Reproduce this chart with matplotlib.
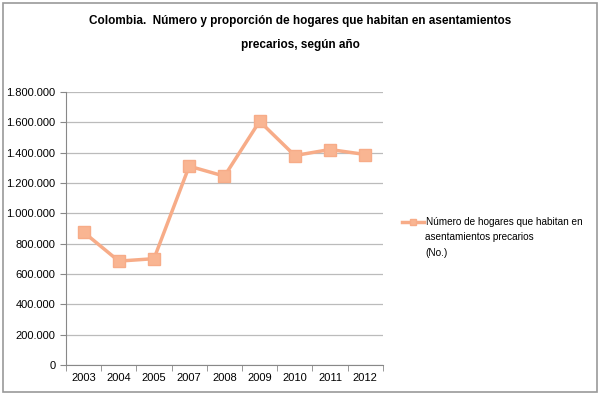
import matplotlib.pyplot as plt
from matplotlib.patches import Rectangle
from matplotlib.ticker import FuncFormatter, FixedLocator

years = ["2003", "2004", "2005", "2007", "2008", "2009", "2010", "2011", "2012"]
hogares = [876000, 685000, 701000, 1311000, 1245000, 1607000, 1381000, 1421000, 1388000]
label_first = "Número de hogares que habitan en"
label_rest = "asentamientos precarios\n(No.)"
title = "Colombia.  Número y proporción de hogares que habitan en asentamientos\nprecarios, según año"

plt.rcParams['font.family'] = ['Liberation Sans', 'DejaVu Sans']

fig = plt.figure(figsize=(6, 3.95), dpi=100)
ax = fig.add_axes([0.11, 0.076, 0.528, 0.691])

x = list(range(len(years)))
ax.plot(x, hogares, color='#F7AC88', lw=2.5, marker='s', ms=9,
        mfc='#F9B592', mec='#F7AC88', label=label_first)

ax.set_xlim(-0.5, len(years) - 0.5)
ax.set_ylim(0, 1800000)
ax.set_yticks(range(0, 1800001, 200000))
ax.yaxis.set_major_formatter(FuncFormatter(lambda v, p: f"{int(v):,}".replace(",", ".")))
ax.set_xticks(x)
ax.set_xticklabels(years)
ax.xaxis.set_minor_locator(FixedLocator([i - 0.5 for i in range(len(years) + 1)]))
ax.tick_params(axis='x', which='major', length=0, labelsize=8, pad=6)
ax.tick_params(axis='x', which='minor', length=4, color='#888888')
ax.tick_params(axis='y', length=4, color='#888888', labelsize=8)

ax.grid(axis='y', color='#BBBBBB', lw=0.9)
ax.set_axisbelow(True)
for s in ['top', 'right']:
    ax.spines[s].set_visible(False)
for s in ['left', 'bottom']:
    ax.spines[s].set_color('#888888')

fig.text(0.5, 0.962, title, ha='center', va='top', fontsize=8.5,
         fontweight='bold', linespacing=2.3)

fig.legend(loc='center left', bbox_to_anchor=(402 / 600, 1 - 222 / 395), frameon=False,
           fontsize=7.2, handlelength=2.2, handletextpad=0.15, markerscale=0.55,
           borderpad=0, borderaxespad=0)
fig.text(425 / 600, 1 - 232 / 395, label_rest, ha='left', va='top', fontsize=7.2,
         linespacing=1.75)

fig.patches.append(Rectangle((0.005, 0.008), 0.99, 0.985, transform=fig.transFigure,
                             fill=False, ec='#999999', lw=1.2))

fig.savefig("out.png", dpi=100)
